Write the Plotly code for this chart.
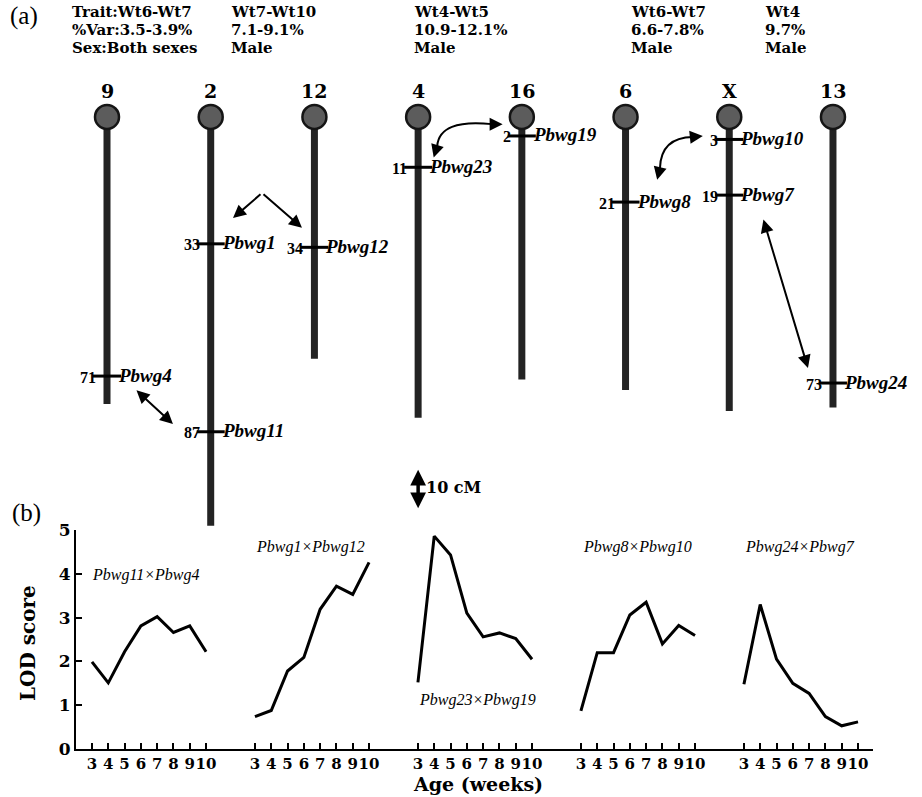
import plotly.graph_objects as go

# ---------------- data ----------------
chromosomes = ["9", "2", "12", "4", "16", "6", "X", "13"]
chrom_lengths_cM = [79, 114, 66, 83, 72, 75, 81, 80]

marker_names = ["Pbwg4", "Pbwg1", "Pbwg11", "Pbwg12", "Pbwg23", "Pbwg19", "Pbwg8", "Pbwg10", "Pbwg7", "Pbwg24"]
marker_chrom = ["9", "2", "2", "12", "4", "16", "6", "X", "X", "13"]
marker_cM = [71, 33, 87, 34, 11, 2, 21, 3, 19, 73]

trait_labels = ["Trait:Wt6-Wt7", "Wt7-Wt10", "Wt4-Wt5", "Wt6-Wt7", "Wt4"]
var_labels = ["%Var:3.5-3.9%", "7.1-9.1%", "10.9-12.1%", "6.6-7.8%", "9.7%"]
sex_labels = ["Sex:Both sexes", "Male", "Male", "Male", "Male"]

weeks = [3, 4, 5, 6, 7, 8, 9, 10]
pair_labels = ["Pbwg11×Pbwg4", "Pbwg1×Pbwg12", "Pbwg23×Pbwg19", "Pbwg8×Pbwg10", "Pbwg24×Pbwg7"]
lod_pbwg11_pbwg4 = [1.99, 1.51, 2.22, 2.81, 3.02, 2.66, 2.81, 2.22]
lod_pbwg1_pbwg12 = [0.74, 0.88, 1.78, 2.09, 3.19, 3.72, 3.53, 4.26]
lod_pbwg23_pbwg19 = [1.52, 4.86, 4.43, 3.10, 2.56, 2.65, 2.52, 2.05]
lod_pbwg8_pbwg10 = [0.87, 2.20, 2.20, 3.06, 3.35, 2.40, 2.82, 2.59]
lod_pbwg24_pbwg7 = [1.48, 3.30, 2.05, 1.50, 1.27, 0.74, 0.53, 0.62]
lod_series = [lod_pbwg11_pbwg4, lod_pbwg1_pbwg12, lod_pbwg23_pbwg19, lod_pbwg8_pbwg10, lod_pbwg24_pbwg7]

# ---------------- layout constants ----------------
W, H = 922, 797
SERIF = "DejaVu Serif"
TIMES = "Liberation Serif"
GROUP_GAP = 10  # x offset between the LOD groups
BALL_CM = -3.45

fig = go.Figure()

# ---- (a) chromosome map (axes x2 / y2, x = chromosome slot, y = cM) ----
slot = {c: i for i, c in enumerate(chromosomes)}
for c, L in zip(chromosomes, chrom_lengths_cM):
    fig.add_trace(go.Scatter(x=[slot[c], slot[c]], y=[BALL_CM + 2, L], mode="lines",
                             line=dict(color="#232323", width=7), xaxis="x2", yaxis="y2",
                             hoverinfo="skip", showlegend=False))
fig.add_trace(go.Scatter(x=list(range(len(chromosomes))), y=[BALL_CM] * len(chromosomes), mode="markers",
                         marker=dict(size=24, color="#5c5c5c", line=dict(color="#151515", width=2.5)),
                         xaxis="x2", yaxis="y2", hoverinfo="skip", showlegend=False))
fig.add_trace(go.Scatter(x=[slot[c] for c in marker_chrom], y=marker_cM, mode="markers",
                         marker=dict(symbol="line-ew", size=20, line=dict(color="black", width=3)),
                         xaxis="x2", yaxis="y2", hoverinfo="skip", showlegend=False))

annotations = []
for c in chromosomes:
    annotations.append(dict(x=slot[c], y=-10.9, xref="x2", yref="y2", text=c, showarrow=False,
                            font=dict(family=SERIF, size=19, color="black", weight="bold")))
for name, c, cm in zip(marker_names, marker_chrom, marker_cM):
    annotations.append(dict(x=slot[c], y=cm, xref="x2", yref="y2", text=str(cm), showarrow=False,
                            xanchor="right", xshift=-9, yshift=-1,
                            font=dict(family=TIMES, size=16, color="black", weight="bold")))
    annotations.append(dict(x=slot[c], y=cm, xref="x2", yref="y2", text=name, showarrow=False,
                            xanchor="left", xshift=9, yshift=1,
                            font=dict(family=TIMES, size=19, color="black", weight="bold", style="italic")))

# header text
header_x = [70, 229, 412, 629, 763]
header_y = [12, 30, 48]
for hx, t, v, s in zip(header_x, trait_labels, var_labels, sex_labels):
    for hy, txt in zip(header_y, [t, v, s]):
        annotations.append(dict(x=hx / W, y=1 - hy / H, xref="paper", yref="paper", text=txt,
                                showarrow=False, xanchor="left", yanchor="middle",
                                font=dict(family=SERIF, size=15, color="black", weight="bold")))


def arrow(x0, y0, x1, y1, both=False, size=1.3, width=2):
    d = dict(x=x1, y=y1, ax=x0, ay=y0, xref="x2", yref="y2", axref="x2", ayref="y2", text="",
             showarrow=True, arrowhead=2, arrowsize=size, arrowwidth=width, arrowcolor="black")
    if both:
        d.update(arrowside="end+start", startarrowhead=2, startarrowsize=size)
    return d


# interaction arrows
annotations.append(arrow(1.4945, 18.4, 1.215, 25.6))
annotations.append(arrow(1.4945, 18.4, 1.880, 28.4))
annotations.append(arrow(0.270, 74.7, 0.636, 84.8, both=True))
annotations.append(arrow(6.325, 25.6, 6.759, 68.7, both=True))
# 10 cM scale bar
annotations.append(arrow(3.0, 97.5, 3.0, 109.0, both=True, size=0.9, width=3.5))
annotations.append(dict(x=3.0, y=102.9, xref="x2", yref="y2", text="10 cM", showarrow=False,
                        xanchor="left", xshift=6,
                        font=dict(family=SERIF, size=16, color="black", weight="bold")))
# curved arrows: arrowheads
annotations.append(arrow(3.184, 4.9, 3.150, 8.2))
annotations.append(arrow(3.712, -1.4, 3.815, -1.4))
annotations.append(arrow(5.332, 11.2, 5.305, 14.6))
annotations.append(arrow(5.650, 2.3, 5.745, 2.0))

shapes = [
    dict(type="path", xref="x2", yref="y2", path="M 3.184,4.9 Q 3.205,-3.0 3.712,-1.4",
         line=dict(color="black", width=2)),
    dict(type="path", xref="x2", yref="y2", path="M 5.332,11.2 Q 5.342,2.4 5.650,2.3",
         line=dict(color="black", width=2)),
]

# ---- (b) LOD curves ----
tickvals, ticktext = [], []
for g, lod in enumerate(lod_series):
    xs = [w + GROUP_GAP * g for w in weeks]
    fig.add_trace(go.Scatter(x=xs, y=lod, mode="lines", line=dict(color="black", width=3),
                             hoverinfo="skip", showlegend=False))
    tickvals += xs
    ticktext += [str(w) for w in weeks]

label_pos = [(6.3, 3.97), (16.38, 4.61), (26.68, 1.12), (36.44, 4.61), (46.44, 4.61)]
for (lx, ly), txt in zip(label_pos, pair_labels):
    annotations.append(dict(x=lx, y=ly, xref="x", yref="y", text=txt, showarrow=False,
                            font=dict(family=TIMES, size=16, color="black", style="italic")))

annotations.append(dict(x=28 / W, y=1 - 643 / H, xref="paper", yref="paper", text="LOD score",
                        textangle=-90, showarrow=False, xanchor="center", yanchor="middle",
                        font=dict(family=SERIF, size=20, color="black", weight="bold")))
annotations.append(dict(x=478 / W, y=1 - 784 / H, xref="paper", yref="paper", text="Age (weeks)",
                        showarrow=False, xanchor="center", yanchor="middle",
                        font=dict(family=SERIF, size=19, color="black", weight="bold")))
annotations.append(dict(x=8 / W, y=1 - 16 / H, xref="paper", yref="paper", text="(a)", xanchor="left",
                        yanchor="middle", showarrow=False, font=dict(family=TIMES, size=25, color="black")))
annotations.append(dict(x=10 / W, y=1 - 513 / H, xref="paper", yref="paper", text="(b)", xanchor="left",
                        yanchor="middle", showarrow=False, font=dict(family=TIMES, size=25, color="black")))

fig.update_layout(
    width=W, height=H, margin=dict(l=0, r=0, t=0, b=0, pad=0), autosize=False,
    paper_bgcolor="white", plot_bgcolor="rgba(0,0,0,0)",
    showlegend=False,
    xaxis=dict(domain=[76 / W, 873 / W], range=[2.02, 50.92], tickvals=tickvals, ticktext=ticktext,
               ticks="inside", ticklen=6, tickwidth=1.5, tickcolor="black", tickangle=0,
               showline=True, linewidth=2, linecolor="black", showgrid=False, zeroline=False,
               automargin=False,
               tickfont=dict(family=SERIF, size=15, color="black", weight="bold")),
    yaxis=dict(domain=[1 - 749 / H, 1 - 530 / H], range=[0, 5], tickvals=[0, 1, 2, 3, 4, 5],
               ticks="inside", ticklen=6, tickwidth=1.5, tickcolor="black",
               showline=True, linewidth=2, linecolor="black", showgrid=False, zeroline=False,
               automargin=False,
               tickfont=dict(family=SERIF, size=17, color="black", weight="bold")),
    xaxis2=dict(domain=[0, 1], range=[-107 / 103.71, -107 / 103.71 + W / 103.71], visible=False,
                anchor="y2", automargin=False),
    yaxis2=dict(domain=[1 - 580 / H, 1], range=[(580 - 129) / 3.48, -129 / 3.48], visible=False,
                anchor="x2", automargin=False),
    annotations=annotations,
    shapes=shapes,
)

fig.write_html("out.html", config={"displayModeBar": False},
               post_script="document.body.style.margin='0px';")
